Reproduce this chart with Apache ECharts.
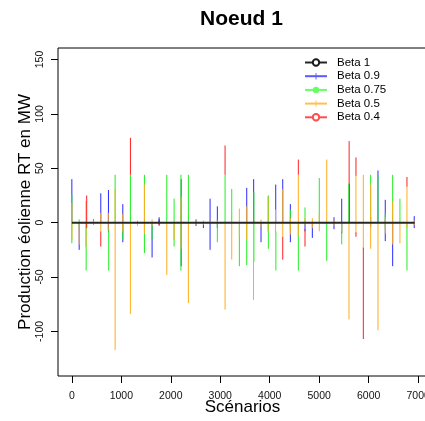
<!DOCTYPE html>
<html><head><meta charset="utf-8">
<script src="https://cdn.jsdelivr.net/npm/echarts@6/dist/echarts.min.js"></script>
<style>html,body{margin:0;padding:0;background:#fff}#c{width:425px;height:421px}</style>
</head><body><div id="c"></div>
<script>
const seriesNames = ['Beta 1', 'Beta 0.9', 'Beta 0.75', 'Beta 0.5', 'Beta 0.4'];
const xTicks = [0, 1000, 2000, 3000, 4000, 5000, 6000, 7000];
const yTicks = [-100, -50, 0, 50, 100, 150];

// Beta 1: flat line at zero over the scenarios, plus a few small segments
const betaOneLine = [[0, 0], [6930, 0]];
const betaOneSegs = [[1764, -1, 3], [5607, 0, 36]];

// segments: [scenario, low, high]
const betaNineSegs = [
  [0, 0, 40], [148, -25, 0], [437, -2, 3], [585, 0, 27], [740, -9, 30], [1030, -18, 17],
  [1622, -32, 0], [1764, -2, 5], [2210, -40, 40], [2511, -3, 3], [2659, -5, 0], [2794, -25, 22],
  [2941, -5, 15], [3535, 0, 32], [3675, 0, 40], [3824, -18, 0], [4121, 0, 35], [4263, 0, 40],
  [4417, -18, 17], [4713, -8, 0], [4861, -14, 0], [5299, -6, 5], [5455, -10, 22], [6040, -4, 5],
  [6188, 0, 48], [6335, -17, 21], [6485, -40, 0], [6921, -5, 6]
];
const betaSeventyFiveSegs = [
  [0, -19, 26], [148, -5, 3], [289, -44, 0], [745, -44, -5], [875, 0, 44], [1030, -16, -2],
  [1184, 0, 44], [1467, -28, 44], [1622, -16, 0], [1919, 0, 44], [2067, -22, 22], [2205, -44, 44],
  [2356, 0, 44], [2941, -18, 0], [3097, 0, 44], [3232, 0, 31], [3386, -40, 0], [3535, -39, 0],
  [3680, -36, 28], [3972, -24, 25], [4124, -44, -8], [4417, -5, 12], [4578, -44, 0], [4713, 0, 14],
  [5002, 0, 41], [5152, -35, 0], [5455, -20, 0], [5600, 0, 36], [6040, 0, 44], [6188, 0, 43],
  [6335, -5, 9], [6485, 0, 44], [6632, 0, 22], [6774, -44, 0]
];
const betaHalfSegs = [
  [0, -16, 18], [148, -20, 0], [285, -22, 20], [437, -2, 2], [585, -8, 9], [735, -7, 9],
  [875, -117, 31], [1030, -8, 8], [1184, -84, 0], [1326, -3, 2], [1467, -10, 35], [1622, -3, 3],
  [1919, -48, 0], [2067, -16, 0], [2208, -24, 24], [2356, -74, 0], [2511, -2, 2], [2659, -2, 2],
  [2794, -1, 2], [2941, 0, 2], [3097, -80, 0], [3232, -34, 0], [3386, -13, 13], [3535, -16, 15],
  [3672, -71, 0], [3824, -4, 3], [3965, -8, 24], [4118, -11, 12], [4263, -13, 31], [4417, -11, 4],
  [4578, -12, 44], [4713, -2, 4], [4861, -5, 4], [5002, -8, 9], [5152, 0, 58], [5299, -3, 3],
  [5455, -8, 0], [5602, -89, 0], [5743, -10, 43], [5892, -24, 44], [6040, -24, 35], [6188, -99, 0],
  [6335, -10, 5], [6485, -20, 19], [6632, -19, 0], [6774, -5, 33], [6921, -2, 2]
];
const betaFourTenthsSegs = [
  [300, -5, 25], [585, -22, -8], [1184, 44, 78], [1764, -3, 0], [3097, 44, 71], [4263, -34, -13],
  [4578, 44, 58], [4713, -22, -6], [5605, 36, 75], [5743, 43, 60], [5743, -13, -9],
  [5892, -107, -23], [6774, 33, 42]
];

const colors = ['#111111', '#2a2aff', '#22ee22', '#ffad1f', '#ff2020'];
const legendColors = ['#1a1a1a', '#5a5aff', '#66ff66', '#ffc04d', '#ff4d4d'];
const legendSymbols = ['emptyCircle', 'path://M0,0M10,10M4.3,0L5.7,0L5.7,10L4.3,10Z', 'circle',
  'path://M0,0M10,10M4.3,0L5.7,0L5.7,10L4.3,10Z', 'emptyCircle'];
const segData = [betaOneSegs, betaNineSegs, betaSeventyFiveSegs, betaHalfSegs, betaFourTenthsSegs];

const FONT = '"Liberation Sans", Arial, sans-serif';

// vertical segments -> broken polyline (null breaks the line)
function toPath(segs) {
  const out = [];
  segs.forEach(s => { out.push([s[0], s[1]]); out.push([s[0], s[2]]); out.push([s[0], null]); });
  return out;
}

const series = [];
// legend carriers / baseline
seriesNames.forEach((name, i) => {
  series.push({
    name: name,
    type: 'line',
    data: i === 0 ? betaOneLine : [],
    showSymbol: false,
    symbol: legendSymbols[i],
    symbolSize: 6,
    lineStyle: { color: i === 0 ? '#262626' : legendColors[i], width: i === 0 ? 2 : 1.5 },
    itemStyle: { color: legendColors[i] },
    z: 10,
    silent: true,
    animation: false
  });
});
seriesNames.forEach((name, i) => {
  series.push({
    name: name,
    type: 'line',
    data: toPath(segData[i]),
    showSymbol: false,
    symbol: 'none',
    connectNulls: false,
    lineStyle: { color: colors[i], width: 1 },
    itemStyle: { color: colors[i] },
    z: 2 + i,
    silent: true,
    animation: false
  });
});

const chart = echarts.init(document.getElementById('c'), null, { renderer: 'canvas' });
chart.setOption({
  animation: false,
  backgroundColor: '#fff',
  title: {
    text: 'Noeud 1',
    left: 200,
    top: 9,
    padding: 0,
    textStyle: { fontFamily: FONT, fontWeight: 'bold', fontSize: 21, color: '#000' }
  },
  legend: {
    orient: 'vertical',
    left: 304,
    top: 56,
    itemWidth: 22,
    itemHeight: 8,
    itemGap: 0.7,
    padding: 0,
    data: seriesNames,
    textStyle: { fontFamily: FONT, fontSize: 11.5, color: '#000', lineHeight: 13, padding: [0, 0, 0, 5] },
    selectedMode: false
  },
  grid: {
    left: 58, top: 48, width: 374, height: 328,
    outerBoundsMode: 'none', containLabel: false,
    show: true, borderColor: '#000', borderWidth: 1, backgroundColor: 'transparent'
  },
  xAxis: {
    type: 'value',
    min: -280, max: 7280,
    name: 'Scénarios',
    nameLocation: 'middle',
    nameGap: 23,
    nameMoveOverlap: false,
    nameTextStyle: { fontFamily: FONT, fontSize: 17, color: '#000', padding: [0, 5, 0, 0] },
    axisLine: { show: false, onZero: false },
    splitLine: { show: false },
    axisTick: { show: true, length: 7, lineStyle: { color: '#000' }, customValues: xTicks },
    axisLabel: { fontFamily: FONT, fontSize: 10.5, color: '#111', margin: 15, customValues: xTicks,
      formatter: v => String(v) }
  },
  yAxis: {
    type: 'value',
    min: -141, max: 160.6,
    name: 'Production éolienne RT en MW',
    nameLocation: 'middle',
    nameGap: 24,
    nameMoveOverlap: false,
    nameRotate: 90,
    nameTextStyle: { fontFamily: FONT, fontSize: 17, color: '#000' },
    axisLine: { show: false, onZero: false },
    splitLine: { show: false },
    axisTick: { show: true, length: 7, lineStyle: { color: '#000' }, customValues: yTicks },
    axisLabel: { fontFamily: FONT, fontSize: 10.5, color: '#111', margin: 12, rotate: 90, customValues: yTicks,
      formatter: v => String(v) }
  },
  series: series
});
</script>
</body></html>
